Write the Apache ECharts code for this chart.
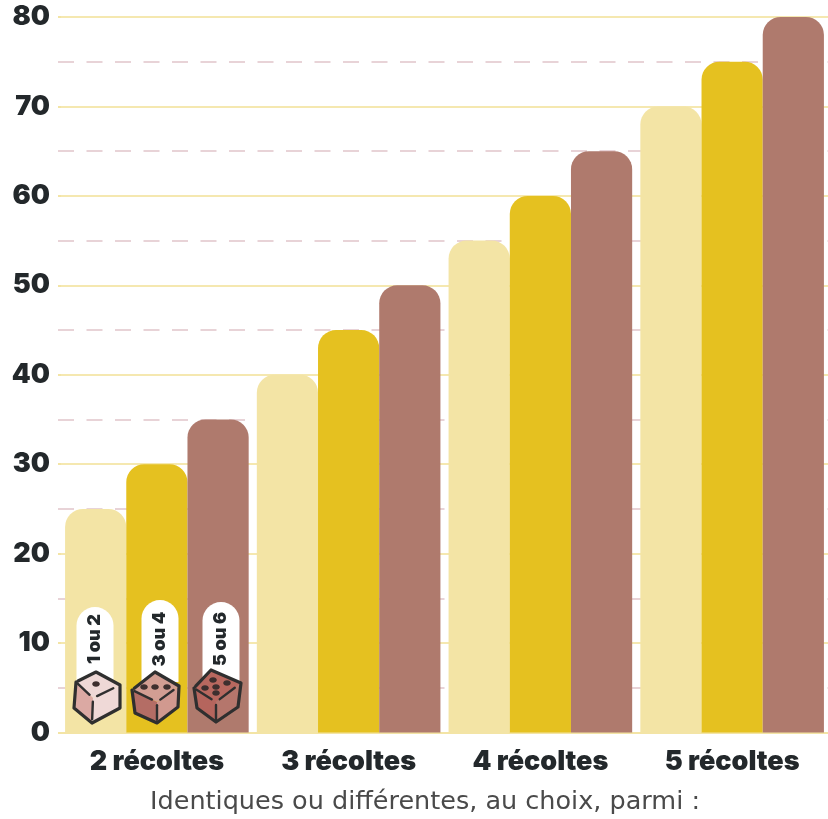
<!DOCTYPE html>
<html><head><meta charset="utf-8">
<style>html,body{margin:0;padding:0;background:#fff}#c{width:828px;height:819px}</style>
<script src="https://cdn.jsdelivr.net/npm/echarts@6/dist/echarts.min.js"></script>
</head><body><div id="c"></div>
<script>
const categories = ['2 récoltes','3 récoltes','4 récoltes','5 récoltes'];
const faible = [25,40,55,70];
const moyen = [30,45,60,75];
const fort = [35,50,65,80];
const seriesNames = ['1 ou 2','3 ou 4','5 ou 6'];
const caption = 'Identiques ou différentes, au choix, parmi :';

const INK='#23282b', FONT='Inter, "Noto Sans", sans-serif';
const bar=(name,data,color)=>({name,type:'bar',data,barWidth:61.2,barGap:0,z:3,
  itemStyle:{color,borderRadius:[18,18,0,0]}});

function pill(cx,top,label){
  return [
    {type:'rect',z:10,shape:{x:cx-18.5,y:top,width:37,height:682-top,r:[18.5,18.5,0,0]},style:{fill:'#fff'}},
    {type:'text',z:11,x:cx-0.5,y:639,rotation:Math.PI/2,
     style:{text:label,fontFamily:FONT,fontWeight:900,fontSize:18,fill:INK,align:'center',verticalAlign:'middle'}}
  ];
}
function part(a,b,f0,f1){
  const p=f=>[a[0]+(b[0]-a[0])*f,a[1]+(b[1]-a[1])*f];
  return [p(f0),p(f1)];
}
function die(P,cols,pips){
  const {t,rt,rb,b,lb,lt,c}=P;
  const line={stroke:'#2f2f2f',lineWidth:3.2,lineJoin:'round',lineCap:'round',fill:null};
  const poly=(pts,fill)=>({type:'polygon',z:12,shape:{points:pts},style:{fill}});
  const out=[poly([lt,t,rt,c],cols[0]),poly([lt,c,b,lb],cols[1]),poly([c,rt,rb,b],cols[2]),
    {type:'polyline',z:13,shape:{points:[part(lt,t,0.1,1)[0],t,rt,rb,b,lb,lt]},style:line},
    {type:'polyline',z:13,shape:{points:part(lt,c,0.1,0.8)},style:{...line,lineWidth:2.4}},
    {type:'polyline',z:13,shape:{points:part(c,rt,0.15,0.75)},style:{...line,lineWidth:2.4}},
    {type:'polyline',z:13,shape:{points:part(c,b,0.15,0.85)},style:{...line,lineWidth:2.4}}];
  pips.forEach(p=>out.push({type:'ellipse',z:14,shape:{cx:p[0],cy:p[1],rx:3.8,ry:2.8},style:{fill:'#3d2f2e'}}));
  return out;
}
const graphics=[
  ...pill(95,607,seriesNames[0]),...pill(160,600,seriesNames[1]),...pill(221,602,seriesNames[2]),
  ...die({t:[96,672],rt:[120,685],rb:[120,708],b:[92,723],lb:[74,708],lt:[76,682],c:[93,698]},['#eed8d6','#dba9a3','#efd9d7'],[[96,684]]),
  ...die({t:[155,672],rt:[179,686],rb:[178,707],b:[157,723],lb:[135,713],lt:[132,690],c:[157,702]},['#d29e93','#b46d65','#d1998f'],[[144,687],[155,687],[167,687]]),
  ...die({t:[211,670],rt:[241,683],rb:[238,707],b:[216,722],lb:[197,708],lt:[194,688],c:[216,702]},['#b8685f','#b5655d','#b5766c'],[[213,680],[205,688],[216,687],[227,683],[216,693]]),
  {type:'text',z:5,x:425,y:802,style:{text:caption,fontFamily:'"DejaVu Sans"',fontSize:25.5,fill:'#4a4a4a',align:'center',verticalAlign:'middle'}}
];

const chart=echarts.init(document.getElementById('c'),null,{renderer:'canvas'});
chart.setOption({
  animation:false,backgroundColor:'#fff',
  grid:{left:61,right:-2,top:17,bottom:86.5,containLabel:false},
  xAxis:{type:'category',data:categories,
    axisLine:{lineStyle:{color:'#f3e4a5',width:2}},axisTick:{show:false},
    axisLabel:{color:INK,fontFamily:FONT,fontWeight:900,fontSize:27,margin:16}},
  yAxis:{type:'value',min:0,max:80,interval:10,
    axisLine:{show:false},
    axisTick:{show:true,length:3,lineStyle:{color:'#f3e4a5',width:2}},
    minorTick:{show:true,splitNumber:2,length:3,lineStyle:{color:'#e8d3d7',width:2}},
    splitLine:{show:true,lineStyle:{color:'#f5e8b0',width:2}},
    minorSplitLine:{show:true,lineStyle:{color:'#e8d3d7',width:2,type:[16,12.5],dashOffset:3}},
    axisLabel:{color:INK,fontFamily:FONT,fontWeight:900,fontSize:27,margin:11}},
  series:[bar(seriesNames[0],faible,'#f3e4a5'),bar(seriesNames[1],moyen,'#e5c120'),bar(seriesNames[2],fort,'#af7a6d')],
  graphic:graphics
});
</script></body></html>
